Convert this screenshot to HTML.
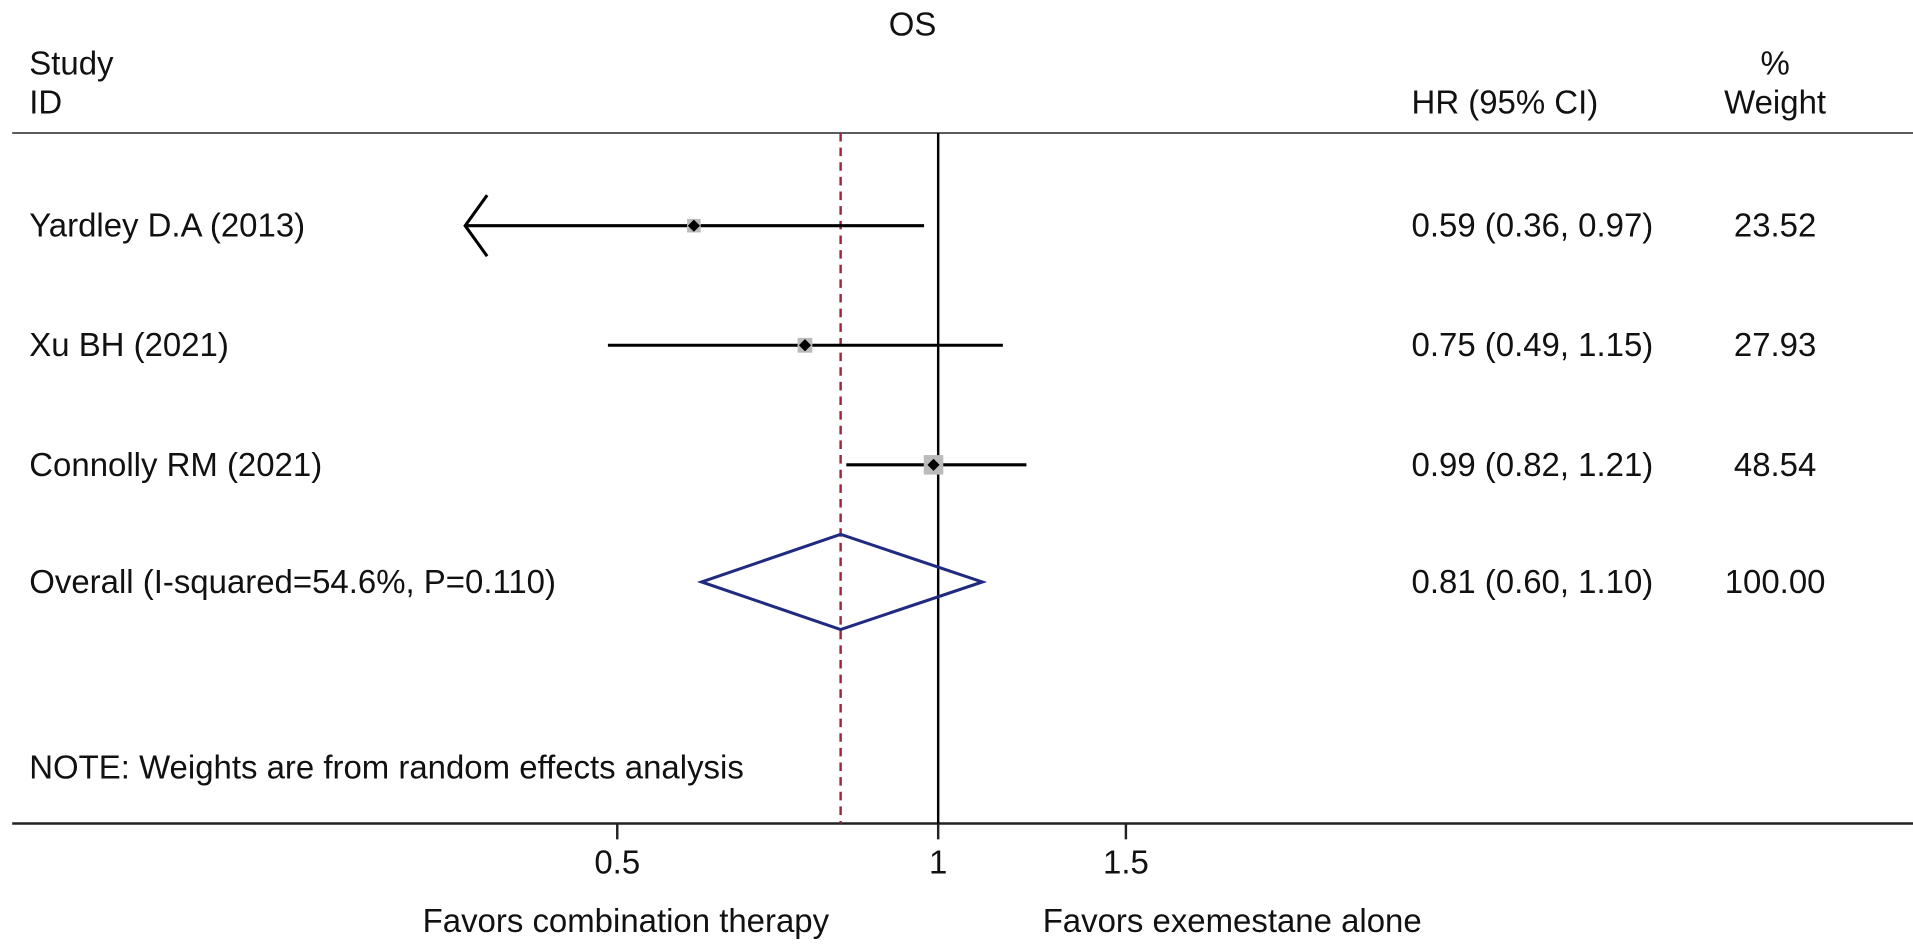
<!DOCTYPE html>
<html><head><meta charset="utf-8"><style>
body{margin:0;background:#fff;}
svg{display:block;font-family:"Liberation Sans",Arial,sans-serif;}
</style></head><body>
<svg id="chart" width="1913" height="952">
<g id="g" transform="scale(1.22)"></g>
</svg>
<script>
const studies=["Yardley D.A (2013)","Xu BH (2021)","Connolly RM (2021)"];
const hr=[0.59,0.75,0.99];
const lo=[0.36,0.49,0.82];
const hi=[0.97,1.15,1.21];
const weights=[23.52,27.93,48.54];
const overall=[0.81,0.60,1.10];
const ticks=[0.5,1,1.5];
const arrowMin=0.36;
const NS="http://www.w3.org/2000/svg";
const g=document.getElementById('g');
const cx=769,k=379.5;
const X=v=>cx+Math.log(v)*k;
const rowY=i=>185+i*98;
function el(t,a,txt){const e=document.createElementNS(NS,t);for(const n in a)e.setAttribute(n,a[n]);if(txt!==undefined)e.textContent=txt;g.appendChild(e);return e;}
function txt(x,y,s,anchor,name){const e=el('text',{x:x,y:y,'font-size':27,fill:'#111','text-anchor':anchor||'start'},s);

return e;}
const fmt=v=>v.toFixed(2);
txt(748,29,"OS","middle","chart-title");
txt(24,61,"Study","start","study-header");
txt(24,93,"ID","start","id-header");
txt(1157,93,"HR (95% CI)","start","hr-header");
txt(1455,61,"%","middle","percent-header");
txt(1455,93,"Weight","middle","weight-header");
let l=el('line',{x1:10,x2:1905,y1:109,y2:109,stroke:'#444','stroke-width':1.5});


l=el('line',{x1:10,x2:1905,y1:675,y2:675,stroke:'#222','stroke-width':2});


l=el('line',{x1:X(1),x2:X(1),y1:109,y2:675,stroke:'#000','stroke-width':2});


l=el('line',{x1:X(overall[0]),x2:X(overall[0]),y1:109,y2:675,stroke:'#a0253a','stroke-width':2,'stroke-dasharray':'7,5'});


ticks.forEach(t=>{
 const tl=el('line',{x1:X(t),x2:X(t),y1:675,y2:688,stroke:'#222','stroke-width':2});
 
 
 txt(X(t),716,String(t),"middle","x-tick-label");
});
studies.forEach((s,i)=>{
 const y=rowY(i);
 txt(24,y+9,s,"start","study-label");
 const x1=Math.max(X(lo[i]),X(arrowMin));
 const ln=el('line',{x1:x1,x2:X(hi[i]),y1:y,y2:y,stroke:'#000','stroke-width':2.5});
 
 
 if(lo[i]<=arrowMin){
  const a=el('polyline',{points:`${x1+18},${y-25} ${x1},${y} ${x1+18},${y+25}`,fill:'none',stroke:'#000','stroke-width':2.5});
  
  
 }
 const sz=Math.sqrt(weights[i])*2.3;
 const sq=el('rect',{x:X(hr[i])-sz/2,y:y-sz/2,width:sz,height:sz,fill:'#bbb'});
 
 
 const d=el('polygon',{points:`${X(hr[i])-5},${y} ${X(hr[i])},${y-5} ${X(hr[i])+5},${y} ${X(hr[i])},${y+5}`,fill:'#000'});
 
 
 txt(1157,y+9,`${fmt(hr[i])} (${fmt(lo[i])}, ${fmt(hi[i])})`,"start","hr-value");
 txt(1455,y+9,fmt(weights[i]),"middle","weight-value");
});
const oy=rowY(3)-2;
txt(24,oy+9,"Overall (I-squared=54.6%, P=0.110)","start","overall-label");
const dm=el('polygon',{points:`${X(overall[1])},${oy} ${X(overall[0])},${oy-39} ${X(overall[2])},${oy} ${X(overall[0])},${oy+39}`,fill:'none',stroke:'#1f2a80','stroke-width':2.5});


txt(1157,oy+9,`${fmt(overall[0])} (${fmt(overall[1])}, ${fmt(overall[2])})`,"start","overall-hr");
txt(1455,oy+9,"100.00","middle","overall-weight");
txt(24,638,"NOTE: Weights are from random effects analysis","start","note");
txt(513,764,"Favors combination therapy","middle","favors-left");
txt(1010,764,"Favors exemestane alone","middle","favors-right");
</script>
</body></html>
